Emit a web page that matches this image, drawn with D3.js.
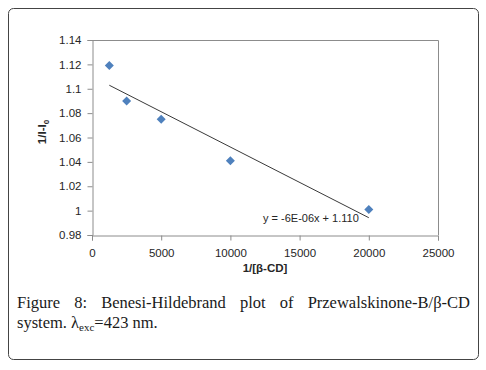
<!DOCTYPE html>
<html>
<head>
<meta charset="utf-8">
<script src="https://cdn.jsdelivr.net/npm/d3@7"></script>
<style>
  body { margin: 0; background: #fff; }
  svg { display: block; }
</style>
</head>
<body>
<div id="chart"></div>
<script>
// values
const xValues = [1250, 2500, 5000, 10000, 20000];
const yValues = [1.119, 1.090, 1.075, 1.041, 1.001];
const xTicks = [0, 5000, 10000, 15000, 20000, 25000];
const yTicks = [0.98, 1, 1.02, 1.04, 1.06, 1.08, 1.1, 1.12, 1.14];
const equationLabel = "y = -6E-06x + 1.110";

const W = 486, H = 370;
const plot = {left: 92, top: 40, right: 438, bottom: 235};

const svg = d3.select("#chart")
    .append("svg")
    .attr("width", W)
    .attr("height", H);

// outer frame
svg.append("rect")
    .attr("x", 8.5).attr("y", 8.5)
    .attr("width", 470).attr("height", 351)
    .attr("rx", 5)
    .style("fill", "none")
    .style("stroke", "#444")
    .style("stroke-width", 1);

const x = d3.scaleLinear()
    .domain([0, 25000])
    .range([plot.left, plot.right]);

const y = d3.scaleLinear()
    .domain([0.98, 1.14])
    .range([plot.bottom, plot.top]);

const tickFont = "'Liberation Sans', Arial, sans-serif";

// plot area border (top and right)
svg.append("path")
    .attr("d", `M${plot.left},${plot.top + 0.5}H${plot.right + 0.5}V${plot.bottom}`)
    .style("fill", "none")
    .style("stroke", "#8c8c8c");

const xAxis = d3.axisBottom(x)
    .tickValues(xTicks)
    .tickSize(5)
    .tickPadding(8)
    .tickFormat(d3.format("d"));

const yAxis = d3.axisLeft(y)
    .tickValues(yTicks)
    .tickSize(5)
    .tickPadding(6)
    .tickFormat(d => String(+d.toFixed(2)));

const gx = svg.append("g")
    .attr("transform", "translate(0," + (plot.bottom + 0.5) + ")")
    .call(xAxis);

const gy = svg.append("g")
    .attr("transform", "translate(" + (plot.left + 0.5) + ",0)")
    .call(yAxis);

[gx, gy].forEach(g => {
    g.select(".domain").style("stroke", "#8c8c8c");
    g.selectAll(".tick line").style("stroke", "#8c8c8c");
    g.selectAll(".tick text")
        .style("font-family", tickFont)
        .style("font-size", "11.5px")
        .style("fill", "#262626");
});

// trendline (least squares)
const xm = d3.mean(xValues), ym = d3.mean(yValues);
const slope = d3.sum(xValues, (v, i) => (v - xm) * (yValues[i] - ym)) /
    d3.sum(xValues, v => (v - xm) * (v - xm));
const intercept = ym - slope * xm;
const x0 = d3.min(xValues), x1 = d3.max(xValues);

svg.append("line")
    .attr("x1", x(x0))
    .attr("y1", y(intercept + slope * x0))
    .attr("x2", x(x1))
    .attr("y2", y(intercept + slope * x1))
    .style("stroke", "#222")
    .style("stroke-width", 0.9);

// markers
svg.selectAll(".pt")
    .data(xValues)
    .enter()
    .append("path")
    .attr("class", "pt")
    .attr("transform", (d, i) => "translate(" + x(d) + "," + y(yValues[i]) + ")")
    .attr("d", "M0,-4.5L4.5,0L0,4.5L-4.5,0Z")
    .style("fill", "#4f81bd");

// equation
svg.append("text")
    .attr("x", 263)
    .attr("y", 222)
    .style("font-family", tickFont)
    .style("font-size", "11px")
    .style("fill", "#262626")
    .text(equationLabel);

// axis titles
svg.append("text")
    .attr("x", 265)
    .attr("y", 272)
    .attr("text-anchor", "middle")
    .style("font-family", tickFont)
    .style("font-size", "11.5px")
    .style("font-weight", "bold")
    .style("fill", "#262626")
    .text("1/[β-CD]");

const yt = svg.append("text")
    .attr("transform", "translate(46,132) rotate(-90)")
    .attr("text-anchor", "middle")
    .style("font-family", tickFont)
    .style("font-size", "11.5px")
    .style("font-weight", "bold")
    .style("fill", "#262626");
yt.append("tspan").text("1/I-I");
yt.append("tspan").attr("dy", 3).style("font-size", "8px").text("0");

// caption
const capFont = "'Liberation Serif', 'Times New Roman', serif";
const line1 = ["Figure", "8:", "Benesi-Hildebrand", "plot", "of", "Przewalskinone-B/β-CD"];
const capLeft = 17, capRight = 470;

const cap1 = svg.append("g")
    .style("font-family", capFont)
    .style("font-size", "16.5px")
    .style("fill", "#1a1a1a");

const words = cap1.selectAll("text")
    .data(line1)
    .enter()
    .append("text")
    .attr("y", 308)
    .text(d => d);

// justify the first line
const widths = [];
words.each(function() { widths.push(this.getComputedTextLength()); });
const gap = (capRight - capLeft - d3.sum(widths)) / (line1.length - 1);
let cx = capLeft;
words.attr("x", (d, i) => {
    const pos = cx;
    cx += widths[i] + gap;
    return pos;
});

const cap2 = svg.append("text")
    .attr("x", capLeft)
    .attr("y", 328)
    .style("font-family", capFont)
    .style("font-size", "16.5px")
    .style("fill", "#1a1a1a");
cap2.append("tspan").text("system. λ");
cap2.append("tspan").attr("dy", 3).style("font-size", "11px").text("exc");
cap2.append("tspan").attr("dy", -3).text("=423 nm.");
</script>
</body>
</html>
